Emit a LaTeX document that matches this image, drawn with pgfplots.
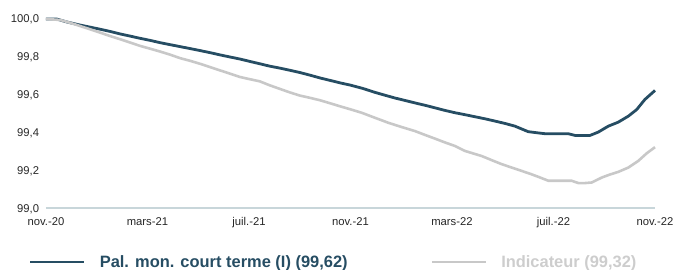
\documentclass[border=0pt]{standalone}
\usepackage{pgfplots}
\pgfplotsset{compat=1.18}
\usepackage{fontspec}
\setmainfont{Liberation Sans}
\definecolor{darkline}{RGB}{38,77,99}
\definecolor{grayline}{RGB}{200,200,200}
\definecolor{graytext}{RGB}{205,205,205}
\definecolor{axiscol}{RGB}{200,214,218}
\begin{document}
\begin{tikzpicture}
\begin{axis}[
  scale only axis,
  width=609bp, height=189bp,
  at={(0,0)}, anchor=south west,
  xmin=0, xmax=24, ymin=99, ymax=100,
  clip=false,
  axis x line*=bottom, axis y line*=left,
  axis line style={-},
  y axis line style={draw=none},
  x axis line style={draw=axiscol, line width=1.4bp},
  major tick length=0pt,
  xtick={0,4,8,12,16,20,24},
  xticklabels={nov.-20,mars-21,juil.-21,nov.-21,mars-22,juil.-22,nov.-22},
  ytick={99,99.2,99.4,99.6,99.8,100},
  /pgf/number format/.cd, fixed, fixed zerofill, precision=1, use comma, assume math mode=true,
  /pgfplots/.cd,
  ticklabel style={font=\fontsize{11.3}{13}\selectfont, text=black!85, inner sep=0pt},
  xticklabel style={anchor=base, yshift=-17bp},
  yticklabel style={anchor=base east, xshift=-6.7bp, yshift=-4bp},
  legend columns=2,
  legend image code/.code={\draw[#1] (0bp,0bp) -- (54bp,0bp);},
  legend style={draw=none, fill=none, inner sep=0pt, outer sep=0pt,
    at={(-0.0279,-0.2857)}, anchor=west,
    font=\fontsize{16.5}{19}\bfseries,
    /tikz/every odd column/.append style={column sep=14bp},
    /tikz/every even column/.append style={column sep=83bp},
    nodes={inner sep=0pt}},
  legend cell align=left,
]
\addplot[darkline, line width=2.8bp, line join=round] coordinates {
(0,100.000) (0.42,100.000) (0.8,99.985) (1.34,99.968) (1.7,99.958) (2.13,99.946)
(2.5,99.935) (2.92,99.921) (3.3,99.910) (3.7,99.898) (4.1,99.887) (4.49,99.875)
(4.9,99.864) (5.28,99.854) (5.7,99.843) (6.07,99.833) (6.5,99.821) (6.86,99.810)
(7.25,99.799) (7.65,99.788) (8.05,99.775) (8.43,99.763) (8.8,99.751) (9.22,99.740)
(9.6,99.729) (10.0,99.717) (10.4,99.703) (10.8,99.688) (11.2,99.675) (11.59,99.662)
(12.0,99.650) (12.5,99.632) (12.96,99.612) (13.35,99.597) (13.75,99.582) (14.15,99.569)
(14.54,99.556) (14.95,99.543) (15.33,99.530) (15.7,99.517) (16.12,99.504) (16.5,99.494)
(16.9,99.483) (17.3,99.472) (17.69,99.460) (18.1,99.447) (18.48,99.433) (18.75,99.418)
(19.0,99.404) (19.35,99.398) (19.67,99.393) (20.1,99.393) (20.58,99.393) (20.85,99.384)
(21.15,99.384) (21.44,99.384) (21.77,99.402) (22.16,99.433) (22.55,99.454) (22.95,99.486)
(23.28,99.521) (23.6,99.574) (24.0,99.622)
};
\addlegendentry{\textcolor{darkline}{Pal. mon. court terme (I) (99,62)}}
\addplot[grayline, line width=2.6bp, line join=round] coordinates {
(0,100.000) (0.55,99.995) (0.95,99.980) (1.34,99.963) (1.75,99.945) (2.13,99.928)
(2.5,99.911) (2.92,99.893) (3.3,99.876) (3.7,99.858) (4.1,99.843) (4.49,99.828)
(4.9,99.811) (5.28,99.793) (5.7,99.778) (6.07,99.763) (6.45,99.746) (6.86,99.728)
(7.25,99.711) (7.65,99.693) (8.05,99.681) (8.43,99.670) (8.8,99.650) (9.22,99.630)
(9.6,99.612) (10.0,99.595) (10.4,99.583) (10.8,99.570) (11.2,99.554) (11.59,99.538)
(12.0,99.522) (12.44,99.504) (12.95,99.478) (13.49,99.451) (14.0,99.429) (14.54,99.407)
(14.95,99.386) (15.33,99.367) (15.7,99.348) (16.12,99.328) (16.51,99.302) (16.85,99.288)
(17.17,99.275) (17.55,99.254) (17.96,99.232) (18.35,99.214) (18.75,99.196) (19.1,99.180)
(19.4,99.165) (19.8,99.144) (20.25,99.144) (20.72,99.144) (20.98,99.132) (21.25,99.132)
(21.51,99.135) (21.9,99.161) (22.2,99.176) (22.55,99.191) (22.95,99.214) (23.34,99.249)
(23.67,99.289) (24.0,99.322)
};
\addlegendentry{\textcolor{graytext}{Indicateur (99,32)}}
\end{axis}
\pgfresetboundingbox
\path[use as bounding box] (-46bp,-62bp) rectangle (629bp,208bp);
\end{tikzpicture}
\end{document}
